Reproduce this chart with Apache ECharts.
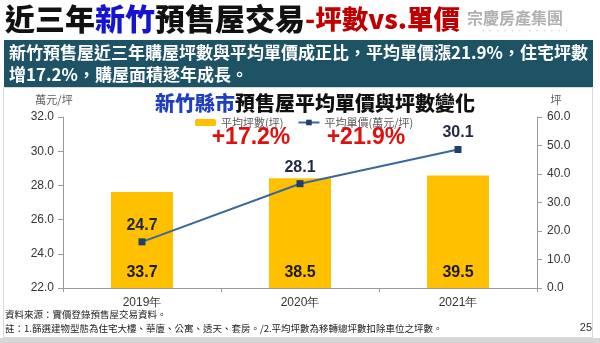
<!DOCTYPE html>
<html>
<head>
<meta charset="utf-8">
<script src="https://cdn.jsdelivr.net/npm/echarts@6/dist/echarts.min.js"></script>
<style>
  html, body { margin: 0; padding: 0; background: #ffffff; }
  #chart { width: 600px; height: 343px; }
</style>
</head>
<body>
<div id="chart"></div>
<script>
// Hsinchu pre-sale housing: average size (ping) vs. average unit price
const categories = ['2019年', '2020年', '2021年'];
const avgPing = [33.7, 38.5, 39.5];        // 平均坪數(坪)
const avgPrice = [24.7, 28.1, 30.1];       // 平均單價(萬元/坪)
const priceTicks = [22, 24, 26, 28, 30, 32];
const pingTicks = [0, 10, 20, 30, 40, 50, 60];
const growthLabels = ['+17.2%', '+21.9%'];
const bannerLines = [
  '新竹預售屋近三年購屋坪數與平均單價成正比，平均單價漲21.9%，住宅坪數',
  '增17.2%，購屋面積逐年成長。'
];
const footnotes = [
  '資料來源：實價登錄預售屋交易資料。',
  '註：1.篩選建物型態為住宅大樓、華廈、公寓、透天、套房。/2.平均坪數為移轉總坪數扣除車位之坪數。'
];

const CJK = '"Noto Sans CJK TC", "Noto Sans CJK SC", sans-serif';
const LAT = '"Liberation Sans", Arial, sans-serif';

const chart = echarts.init(document.getElementById('chart'), null, { renderer: 'canvas' });

chart.setOption({
  animation: false,
  backgroundColor: '#ffffff',
  title: [
    {
      left: 5, top: 2, padding: 0,
      text: '{k|近三年}{b|新竹}{k|預售屋交易}{r|-坪數vs.單價}',
      textStyle: {
        rich: {
          k: { fontFamily: CJK, fontWeight: 900, fontSize: 30, color: '#111111', lineHeight: 34 },
          b: { fontFamily: CJK, fontWeight: 900, fontSize: 30, color: '#1414d2', lineHeight: 34 },
          r: { fontFamily: CJK, fontWeight: 900, fontSize: 26.5, color: '#c00000', lineHeight: 34 }
        }
      }
    },
    {
      left: 310, top: 86, textAlign: 'center',
      text: '{b|新竹縣市}{k|預售屋平均單價與坪數變化}',
      textStyle: {
        rich: {
          b: { fontFamily: CJK, fontWeight: 900, fontSize: 20, color: '#1f3fbf', lineHeight: 24 },
          k: { fontFamily: CJK, fontWeight: 900, fontSize: 20, color: '#111111', lineHeight: 24 }
        }
      }
    }
  ],
  legend: {
    left: 190, top: 112,
    itemWidth: 21, itemHeight: 7, itemGap: 14,
    textStyle: { fontFamily: CJK, fontSize: 11, color: '#595959' },
    data: ['平均坪數(坪)', '平均單價(萬元/坪)']
  },
  grid: { left: 63, right: 63, top: 117, bottom: 55 },
  xAxis: {
    type: 'category',
    data: categories,
    axisLine: { lineStyle: { color: '#9a9a9a', width: 1 } },
    axisTick: { show: true, length: 4, lineStyle: { color: '#9a9a9a' } },
    axisLabel: { fontFamily: LAT, fontSize: 12, color: '#333333', margin: 9 }
  },
  yAxis: [
    {
      type: 'value',
      min: priceTicks[0], max: priceTicks[priceTicks.length - 1],
      interval: priceTicks[1] - priceTicks[0],
      splitLine: { show: false },
      axisLine: { show: true, lineStyle: { color: '#9a9a9a' } },
      axisTick: { show: true, length: 5, lineStyle: { color: '#9a9a9a' } },
      axisLabel: { fontFamily: LAT, fontSize: 12, color: '#333333', margin: 9,
        formatter: v => v.toFixed(1) }
    },
    {
      type: 'value',
      min: pingTicks[0], max: pingTicks[pingTicks.length - 1],
      interval: pingTicks[1] - pingTicks[0],
      splitLine: { show: false },
      axisLine: { show: true, lineStyle: { color: '#9a9a9a' } },
      axisTick: { show: true, length: 5, lineStyle: { color: '#9a9a9a' } },
      axisLabel: { fontFamily: LAT, fontSize: 12, color: '#333333', margin: 10,
        formatter: v => v.toFixed(1) }
    }
  ],
  series: [
    {
      name: '平均坪數(坪)',
      type: 'bar',
      yAxisIndex: 1,
      data: avgPing,
      barWidth: 62,
      itemStyle: { color: '#ffc000' },
      label: {
        show: true, position: 'insideBottom', distance: 7,
        fontFamily: LAT, fontWeight: 'bold', fontSize: 16, color: '#1a1a1a',
        formatter: p => p.value.toFixed(1)
      },
      z: 1
    },
    {
      name: '平均單價(萬元/坪)',
      type: 'line',
      yAxisIndex: 0,
      data: avgPrice,
      symbol: 'rect', symbolSize: 7,
      lineStyle: { color: '#3a679c', width: 2 },
      itemStyle: { color: '#1f3f6e' },
      label: {
        show: true, position: 'top', distance: 5,
        fontFamily: LAT, fontWeight: 'bold', fontSize: 16, color: '#1f2a44',
        formatter: p => p.value.toFixed(1)
      },
      z: 3
    }
  ],
  graphic: [
    // slide frame and bottom strip
    { type: 'rect', z: -10, shape: { x: 3.5, y: 87.5, width: 589, height: 250 },
      style: { fill: 'none', stroke: '#d9d9d9', lineWidth: 1 } },
    { type: 'rect', z: -10, shape: { x: 0, y: 338, width: 600, height: 5 },
      style: { fill: '#d6d6d6' } },
    // summary banner
    { type: 'rect', z: 5, shape: { x: 4, y: 40, width: 589, height: 47 },
      style: { fill: '#1e5265' } },
    { type: 'text', z: 6, x: 9, y: 53,
      style: { text: bannerLines[0], fill: '#ffffff', font: 'bold 17px ' + CJK,
        textVerticalAlign: 'middle' } },
    { type: 'text', z: 6, x: 9, y: 75,
      style: { text: bannerLines[1], fill: '#ffffff', font: 'bold 17px ' + CJK,
        textVerticalAlign: 'middle' } },
    // company mark
    { type: 'text', z: 6, x: 467, y: 18,
      style: { text: '宗慶房產集團', fill: '#b0b0b0', font: 'bold 16px ' + CJK,
        textVerticalAlign: 'middle' } },
    { type: 'text', z: 6, x: 480, y: 31,
      style: { text: '· · · · · ·   · · · · · ·', fill: '#c8c8c8', font: '6px ' + CJK,
        textVerticalAlign: 'middle' } },
    // axis units
    { type: 'text', x: 54, y: 100,
      style: { text: '萬元/坪', fill: '#595959', font: '11px ' + CJK,
        textAlign: 'center', textVerticalAlign: 'middle' } },
    { type: 'text', x: 556, y: 100,
      style: { text: '坪', fill: '#595959', font: '11px ' + CJK,
        textAlign: 'center', textVerticalAlign: 'middle' } },
    // growth callouts
    { type: 'text', x: 251, y: 138,
      style: { text: growthLabels[0], fill: '#e01010', font: 'bold 23px ' + LAT,
        textAlign: 'center', textVerticalAlign: 'middle' } },
    { type: 'text', x: 366, y: 138,
      style: { text: growthLabels[1], fill: '#e01010', font: 'bold 23px ' + LAT,
        textAlign: 'center', textVerticalAlign: 'middle' } },
    // footnotes
    { type: 'text', x: 5, y: 314,
      style: { text: footnotes[0], fill: '#222222', font: '9.5px ' + CJK,
        textVerticalAlign: 'middle' } },
    { type: 'text', x: 5, y: 328,
      style: { text: footnotes[1], fill: '#222222', font: '9.5px ' + CJK,
        textVerticalAlign: 'middle' } },
    { type: 'text', x: 592, y: 328,
      style: { text: '25', fill: '#333333', font: '11px ' + LAT,
        textAlign: 'right', textVerticalAlign: 'middle' } }
  ]
});
</script>
</body>
</html>
